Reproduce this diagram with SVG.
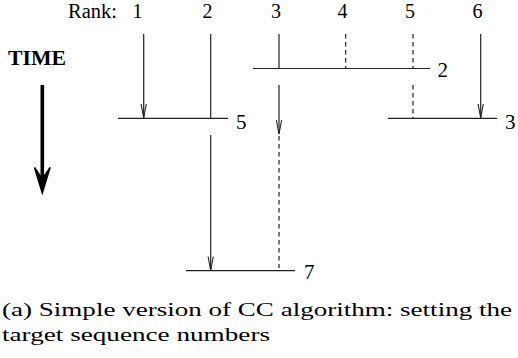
<svg xmlns="http://www.w3.org/2000/svg" width="518" height="358" viewBox="0 0 518 358">
<defs>
<marker id="v" markerUnits="userSpaceOnUse" markerWidth="20" markerHeight="10" viewBox="-16 -5 20 10" refX="0" refY="0" orient="auto" overflow="visible">
<path d="M-14,-2.6 L0,0 L-14,2.6" fill="none" stroke="#222" stroke-width="1.1"/>
</marker>
<style>
.ln{stroke:#222;stroke-width:1.2;fill:none}
.d{stroke:#222;stroke-width:1.2;fill:none;stroke-dasharray:4.5 3.5}
.a{marker-end:url(#v)}
</style>
</defs>
<rect width="518" height="358" fill="#fff"/>
<g id="header" font-family="Liberation Serif, Times New Roman, serif" font-size="20" fill="#000">
<text x="68" y="18" textLength="49" lengthAdjust="spacingAndGlyphs">Rank:</text>
<text x="137.5" y="18" text-anchor="middle">1</text>
<text x="207.5" y="18" text-anchor="middle">2</text>
<text x="276" y="18" text-anchor="middle">3</text>
<text x="342.5" y="18" text-anchor="middle">4</text>
<text x="410" y="18" text-anchor="middle">5</text>
<text x="477.5" y="18" text-anchor="middle">6</text>
</g>
<g id="time">
<text x="8" y="65" font-family="Liberation Serif, Times New Roman, serif" font-weight="bold" font-size="21" textLength="58" lengthAdjust="spacingAndGlyphs">TIME</text>
<line x1="42.3" y1="85" x2="42.3" y2="180" stroke="#000" stroke-width="3.6"/>
<path d="M42.3,193 L34.5,167.5 L42.3,179 L50.1,167.5 Z" fill="#000" stroke="#000" stroke-width="1.5" stroke-linejoin="miter"/>
</g>
<g id="sync-5" font-family="Liberation Serif, Times New Roman, serif" font-size="21">
<line class="ln" x1="118" y1="118.3" x2="228" y2="118.3"/>
<text x="236" y="128.5">5</text>
</g>
<g id="sync-2" font-family="Liberation Serif, Times New Roman, serif" font-size="21">
<line class="ln" x1="253" y1="68.5" x2="430" y2="68.5"/>
<text x="437.5" y="77">2</text>
</g>
<g id="sync-3" font-family="Liberation Serif, Times New Roman, serif" font-size="21">
<line class="ln" x1="388" y1="118.3" x2="497" y2="118.3"/>
<text x="505" y="128.5">3</text>
</g>
<g id="sync-7" font-family="Liberation Serif, Times New Roman, serif" font-size="21">
<line class="ln" x1="186" y1="270.7" x2="295" y2="270.7"/>
<text x="304" y="278.5">7</text>
</g>
<g id="connectors">
<line class="ln a" x1="143.7" y1="34" x2="143.7" y2="118"/>
<line class="ln" x1="210.7" y1="34" x2="210.7" y2="118.3"/>
<line class="ln a" x1="210.7" y1="135" x2="210.7" y2="270.5"/>
<line class="ln" x1="279" y1="34" x2="279" y2="68.5"/>
<line class="ln a" x1="279" y1="85" x2="279" y2="134"/>
<line class="d" x1="279" y1="136" x2="279" y2="268"/>
<line class="d" x1="345.7" y1="34" x2="345.7" y2="68.5"/>
<line class="d" x1="413" y1="34" x2="413" y2="68.5"/>
<line class="d" x1="413" y1="85" x2="413" y2="118.3"/>
<line class="ln a" x1="480.7" y1="34" x2="480.7" y2="118"/>
</g>
<g id="caption" font-family="Liberation Serif, Times New Roman, serif" font-size="19.5">
<text x="2" y="316" textLength="510" lengthAdjust="spacingAndGlyphs">(a) Simple version of CC algorithm: setting the</text>
<text x="2" y="341" textLength="268" lengthAdjust="spacingAndGlyphs">target sequence numbers</text>
</g>
</svg>
